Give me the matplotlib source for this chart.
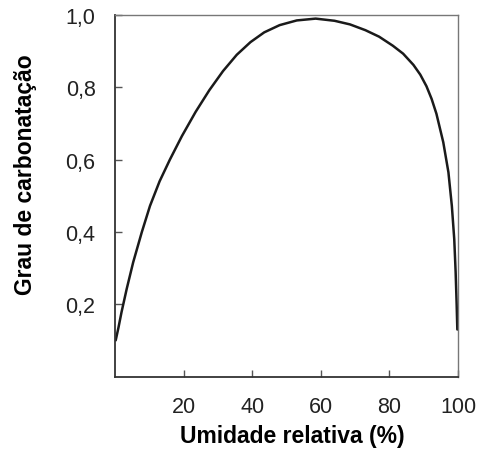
import numpy as np
import matplotlib.pyplot as plt

# relative humidity (%) and degree of carbonation
umidade = [0.2, 1.0, 1.9, 3.4, 5.3, 7.8, 10.2, 13.0, 16.0, 19.5, 23.5, 27.5,
           31.5, 35.5, 39.5, 43.5, 48.0, 53.0, 58.5, 64.0, 68.5, 73.0, 77.0,
           81.0, 84.0, 87.0, 89.0, 90.8, 92.3, 93.7, 95.7, 97.2, 98.2, 98.9,
           99.3, 99.6, 99.8]
grau = [0.100, 0.135, 0.178, 0.242, 0.316, 0.399, 0.472, 0.540, 0.600, 0.665,
        0.732, 0.792, 0.845, 0.890, 0.925, 0.952, 0.972, 0.985, 0.990, 0.984,
        0.974, 0.958, 0.940, 0.915, 0.893, 0.862, 0.835, 0.803, 0.768, 0.727,
        0.648, 0.565, 0.472, 0.380, 0.290, 0.200, 0.130]

xticks = [20, 40, 60, 80, 100]
yticks = [0.2, 0.4, 0.6, 0.8, 1.0]
ylabels = ['0,2', '0,4', '0,6', '0,8', '1,0']

plt.rcParams['font.family'] = ['Liberation Sans', 'DejaVu Sans']

fig = plt.figure(figsize=(4.78, 4.52), dpi=100)
ax = fig.add_axes([0.2406, 0.1648, 0.7176, 0.7998])
ax.plot(umidade, grau, color='#1a1a1a', lw=1.8, solid_capstyle='round',
        solid_joinstyle='round')

ax.set_xlim(0, 100)
ax.set_ylim(0, 1.0)
ax.set_xticks(xticks)
ax.set_xticklabels([str(t) for t in xticks])
ax.set_yticks(yticks)
ax.set_yticklabels(ylabels)
ax.tick_params(direction='in', length=5, width=1, color='#555555',
               labelsize=15.5, labelcolor='#222222', pad=14)

for s in ['left', 'bottom']:
    ax.spines[s].set_color('#333333')
    ax.spines[s].set_linewidth(1.3)
for s in ['top', 'right']:
    ax.spines[s].set_color('#777777')
    ax.spines[s].set_linewidth(1.0)

ax.set_xlabel('Umidade relativa (%)', fontsize=16.5, fontweight='bold')
ax.set_ylabel('Grau de carbonatação', fontsize=16.5, fontweight='bold')
ax.xaxis.set_label_coords(0.516, -0.131)
ax.yaxis.set_label_coords(-0.226, 0.56)

fig.savefig('out.png', dpi=100)
